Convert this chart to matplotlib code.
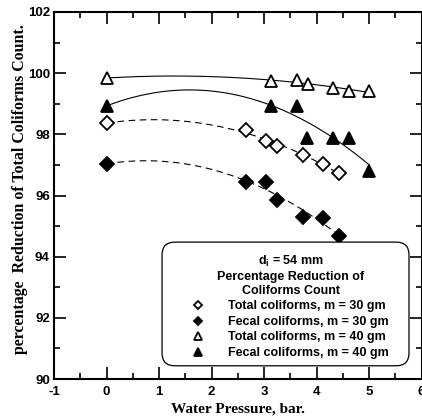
import numpy as np
import matplotlib
matplotlib.use("Agg")
import matplotlib.pyplot as plt
from matplotlib.ticker import MultipleLocator
from matplotlib.patches import FancyBboxPatch

# values
x_tot30 = [0.0, 2.65, 3.04, 3.24, 3.74, 4.12, 4.43]
y_tot30 = [98.36, 98.14, 97.79, 97.63, 97.32, 97.03, 96.73]

x_fec30 = [0.0, 2.65, 3.04, 3.25, 3.75, 4.12, 4.43]
y_fec30 = [97.03, 96.45, 96.45, 95.86, 95.29, 95.26, 94.68]

x_tot40 = [0.0, 3.14, 3.62, 3.83, 4.32, 4.62, 5.0]
y_tot40 = [99.84, 99.75, 99.78, 99.64, 99.50, 99.42, 99.42]

x_fec40 = [0.0, 3.14, 3.62, 3.82, 4.32, 4.62, 5.0]
y_fec40 = [98.93, 98.93, 98.93, 97.89, 97.89, 97.89, 96.81]

labels = ["Total coliforms, m = 30 gm", "Fecal coliforms, m = 30 gm",
          "Total coliforms, m = 40 gm", "Fecal coliforms, m = 40 gm"]

sans = "Liberation Sans"
serif = "Liberation Serif"
plt.rcParams["axes.unicode_minus"] = False

fig = plt.figure(figsize=(4.22, 4.18), dpi=100)
ax = fig.add_axes([54 / 422, 1 - 379 / 418, 367.5 / 422, 367 / 418])

series = [
    (x_tot30, y_tot30, "D", "white", 7, (0, (6, 4))),
    (x_fec30, y_fec30, "D", "black", 7, (0, (6, 4))),
    (x_tot40, y_tot40, "^", "white", 9, "-"),
    (x_fec40, y_fec40, "^", "black", 9, "-"),
]

handles = []
for (xs, ys, mk, fc, ms, ls), lab in zip(series, labels):
    coef = np.polyfit(xs, ys, 2)
    xf = np.linspace(min(xs), max(xs), 200)
    ax.plot(xf, np.polyval(coef, xf), color="black", lw=0.8, linestyle=ls, zorder=2)
    h, = ax.plot(xs, ys, linestyle="none", marker=mk, markersize=ms,
                 markerfacecolor=fc, markeredgecolor="black", markeredgewidth=1.3,
                 label=lab, zorder=3)
    handles.append(h)

ax.set_xlim(-1, 6)
ax.set_ylim(90, 102)
ax.xaxis.set_major_locator(MultipleLocator(1))
ax.xaxis.set_minor_locator(MultipleLocator(0.5))
ax.yaxis.set_major_locator(MultipleLocator(2))
ax.yaxis.set_minor_locator(MultipleLocator(1))
ax.tick_params(which="both", direction="in", top=True, right=True, width=1.2)
ax.tick_params(which="major", length=8.5)
ax.tick_params(which="minor", length=4)
ax.tick_params(axis="x", pad=5)
ax.tick_params(axis="y", pad=3)
for lab in ax.get_xticklabels() + ax.get_yticklabels():
    lab.set_fontfamily(sans)
    lab.set_fontweight("bold")
    lab.set_fontsize(9.5)
for sp in ax.spines.values():
    sp.set_linewidth(1.5)

ax.set_xlabel("Water Pressure, bar.", fontfamily=serif, fontweight="bold",
              fontsize=11, labelpad=3)
ax.set_ylabel("percentage  Reduction of Total Coliforms Count.", fontfamily=serif,
              fontweight="bold", fontsize=11.4)
ax.yaxis.set_label_coords(-0.07, 0.518)

# rounded legend box
box = FancyBboxPatch((0.294, 0.036), 0.672, 0.337, transform=ax.transAxes,
                     boxstyle="round,pad=0,rounding_size=0.035",
                     facecolor="white", edgecolor="black", linewidth=0.9, zorder=4)
ax.add_patch(box)

leg = ax.legend(handles=handles, loc="upper left", bbox_to_anchor=(0.376, 0.34),
                title="d$_\\mathregular{i}$ = 54 mm\nPercentage Reduction of\nColiforms Count",
                prop={"family": sans, "weight": "bold", "size": 9},
                title_fontproperties={"family": sans, "weight": "bold", "size": 9},
                markerscale=0.65, handlelength=1.0, handletextpad=1.9,
                labelspacing=0.28, borderpad=0, borderaxespad=0, frameon=False)
leg.get_title().set_multialignment("center")
leg.set_zorder(5)

fig.savefig("out.png", dpi=100)
